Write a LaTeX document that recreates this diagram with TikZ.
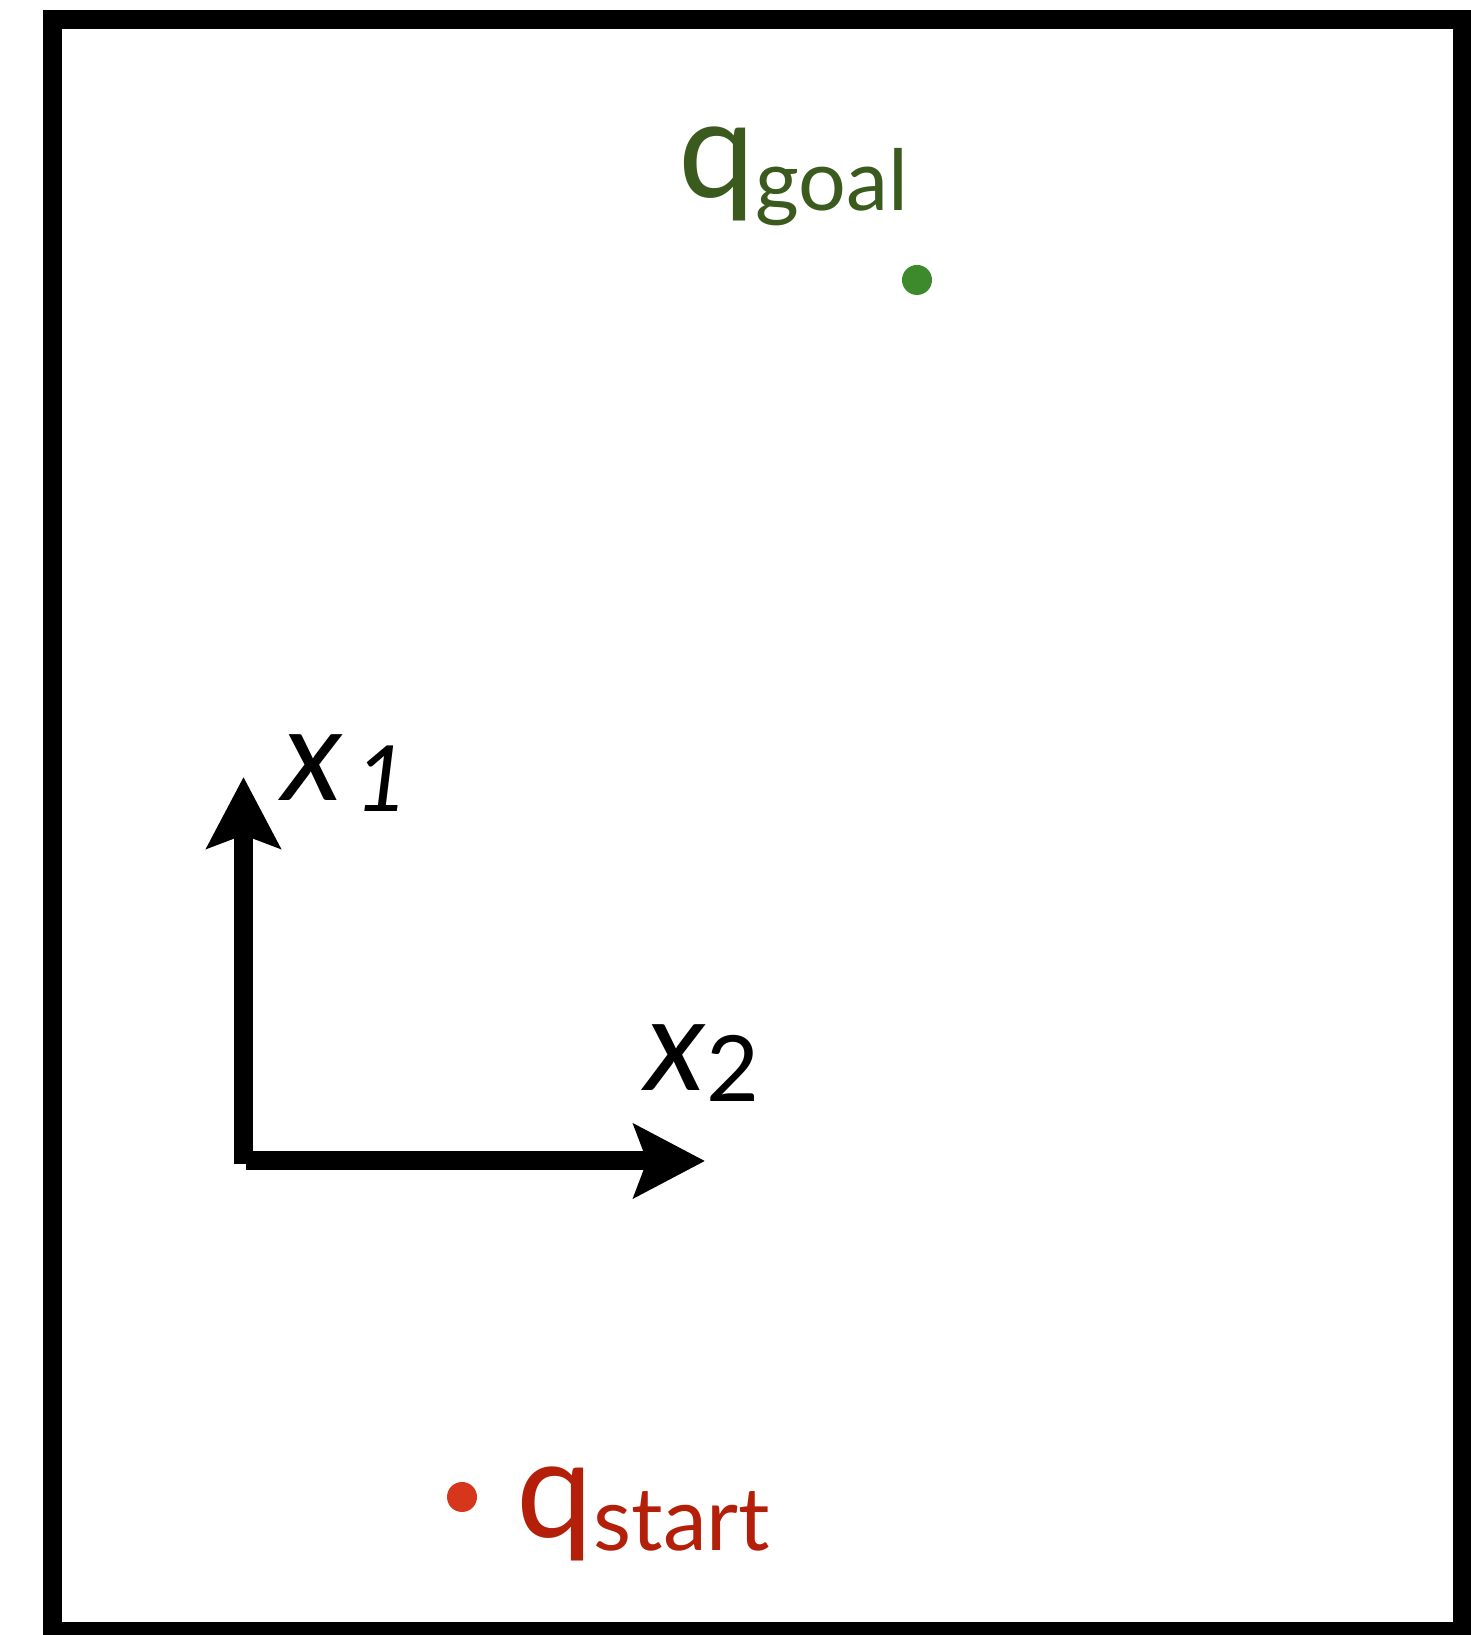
\documentclass[tikz,border=0pt]{standalone}
\usepackage{fontspec}
\setmainfont{Lato}
\usepackage{tikz}
\usetikzlibrary{arrows.meta,calc}
\definecolor{goalgreen}{HTML}{3B5A1D}
\definecolor{goaldot}{HTML}{3D8A2C}
\definecolor{startred}{HTML}{B31F09}
\definecolor{startdot}{HTML}{D6361C}

\begin{document}
\begin{tikzpicture}[scale=1.0,
  axis/.style={line width=0.19cm, -{Stealth[length=0.71cm, width=0.73cm, inset=0.13cm]}},
  dot/.style={circle, inner sep=0pt, minimum size=0.3cm},
  biglabel/.style={anchor=base west, inner sep=0pt, font=\fontsize{39}{39}\selectfont}]
\useasboundingbox (0,0) rectangle (14.7,16.35);
\draw[line width=0.19cm] (0.525,0.035) rectangle (14.62,16.155);
% configurations
\node[dot, fill=goaldot] (goal) at (9.17,13.55) {};
\node[dot, fill=startdot] (start) at (4.62,1.38) {};
\node[biglabel, text=goalgreen] (goallabel) at (6.78,14.37)
  {q\raisebox{-3.5pt}{\fontsize{24}{24}\selectfont goal}};
\node[biglabel, text=startred] (startlabel) at (5.16,0.97)
  {q\raisebox{-3.5pt}{\fontsize{25}{25}\selectfont start}};
% axes
\coordinate (vbot) at (2.435,4.71);
\coordinate (vtop) at (2.435,8.58);
\coordinate (hleft) at (2.46,4.74);
\coordinate (hright) at (7.05,4.74);
\draw[axis] (vbot) -- (vtop);
\draw[axis] (hleft) -- (hright);
\node[biglabel, font=\fontsize{37}{37}\selectfont] (xone) at (2.82,8.34)
  {\textit{x}\hspace{0.12cm}\raisebox{-3pt}{\fontsize{26}{26}\selectfont\textit{1}}};
\node[biglabel, font=\fontsize{37}{37}\selectfont] (xtwo) at (6.45,5.44)
  {\textit{x}\raisebox{-3pt}{\fontsize{26}{26}\selectfont 2}};
\end{tikzpicture}
\end{document}
